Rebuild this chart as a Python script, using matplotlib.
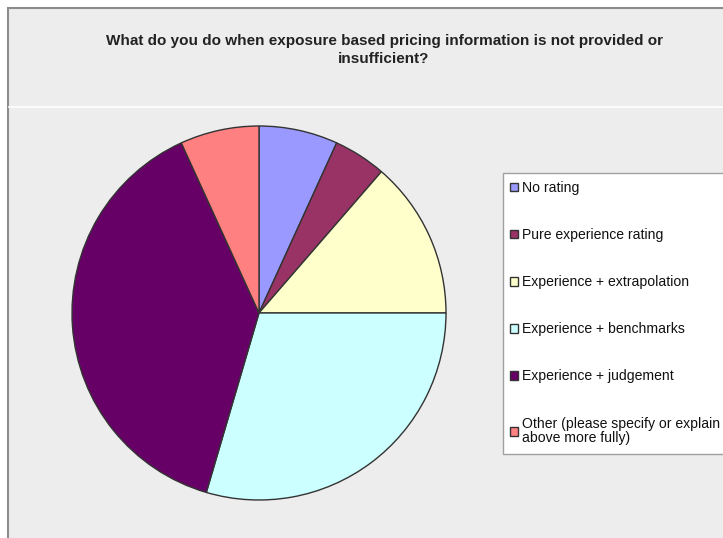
import matplotlib.pyplot as plt
from matplotlib.patches import Rectangle
from matplotlib.lines import Line2D

W, H = 723, 538

labels = ["No rating", "Pure experience rating", "Experience + extrapolation",
          "Experience + benchmarks", "Experience + judgement",
          "Other (please specify or explain\nabove more fully)"]
counts = [3, 2, 6, 13, 17, 3]
colors = ["#9999FF", "#993366", "#FFFFCC", "#CCFFFF", "#660066", "#FF8080"]
title = "What do you do when exposure based pricing information is not provided or\ninsufficient?"

plt.rcParams['font.family'] = ['Liberation Sans', 'DejaVu Sans']

fig = plt.figure(figsize=(W / 100, H / 100), dpi=100)
fig.patch.set_facecolor("white")

def px(x, y):
    # pixel coords (from top-left) -> figure fraction
    return x / W, 1 - y / H

# chart area background + border
bg = Rectangle(px(8, 560), (800 - 8) / W, (560 - 8) / H, transform=fig.transFigure,
               facecolor="#EDEDED", edgecolor="#8C8C8C", linewidth=1.5, zorder=0)
fig.patches.append(bg)
fig.add_artist(Line2D([9 / W, 1], [1 - 107 / H, 1 - 107 / H], transform=fig.transFigure,
                      color="white", linewidth=1.2, zorder=1))

fig.text(384 / W, 1 - 50 / H, title, ha="center", va="center", fontsize=11,
         fontweight="bold", color="#222222", linespacing=1.3)

# pie: center (259, 313), radius 187 px
cx, cy, r = 259, 313, 187
ax = fig.add_axes([(cx - r) / W, (H - cy - r) / H, 2 * r / W, 2 * r / H])
ax.set_zorder(3)
wedges, _ = ax.pie(counts, colors=colors, startangle=90, counterclock=False,
                   wedgeprops=dict(edgecolor="#333333", linewidth=1.0))
ax.set_xlim(-1, 1)
ax.set_ylim(-1, 1)
ax.set_aspect("equal")
ax.set_facecolor("none")

# legend box drawn separately so the padding can differ per side
legbox = Rectangle(px(503, 454), (800 - 503) / W, (454 - 173) / H, transform=fig.transFigure,
                   facecolor="white", edgecolor="#A0A0A0", linewidth=1.0, zorder=2)
fig.patches.append(legbox)

leg = fig.legend(wedges, labels, loc="upper left", bbox_to_anchor=px(510, 181),
                 bbox_transform=fig.transFigure, fontsize=10.1, frameon=False,
                 handlelength=0.57, handleheight=0.57, handletextpad=0.28,
                 labelspacing=2.36, borderpad=0, borderaxespad=0)
leg.set_zorder(4)
for t in leg.get_texts():
    t.set_color("#111111")
    t.set_linespacing(1.05)

fig.savefig("out.png", dpi=100)
